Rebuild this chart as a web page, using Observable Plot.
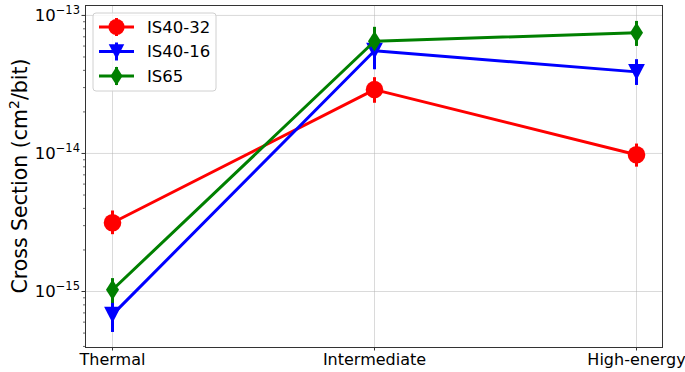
<!DOCTYPE html>
<html><head><meta charset="utf-8">
<script src="https://cdn.jsdelivr.net/npm/d3@7"></script>
<script src="https://cdn.jsdelivr.net/npm/@observablehq/plot@0.6"></script>
<style>
body{margin:0;background:#fff;font-family:"DejaVu Sans",sans-serif;}
#chart{position:relative;width:685px;height:372px;}
</style>
</head><body><div id="chart"></div>
<script>
const categories = ["Thermal", "Intermediate", "High-energy"];
const seriesNames = ["IS40-32", "IS40-16", "IS65"];
const seriesColors = ["#ff0000", "#0000ff", "#008000"];
const is4032 = [3.15e-15, 2.9e-14, 9.8e-15];
const is4032Low = [2.58e-15, 2.31e-14, 7.96e-15];
const is4032High = [3.83e-15, 3.54e-14, 1.17e-14];
const is4016 = [6.8e-16, 5.55e-14, 3.9e-14];
const is4016Low = [5.05e-16, 4.04e-14, 3.11e-14];
const is4016High = [8.6e-16, 7.1e-14, 4.78e-14];
const is65 = [1.03e-15, 6.5e-14, 7.5e-14];
const is65Low = [8.2e-16, 5.3e-14, 5.96e-14];
const is65High = [1.24e-15, 8.2e-14, 9.05e-14];
const yMajorTicks = [1e-15, 1e-14, 1e-13];
const yTickExponents = ["\u221215", "\u221214", "\u221213"];
const yDomain = [3.93e-16, 1.18e-13];
const yLabel = "Cross Section (cm";
const yLabelSup = "2";
const yLabelEnd = "/bit)";

const W = 685, H = 372;
const mL = 85, mR = 23, mT = 5, mB = 25;

const triDown = {draw(ctx, size){ const r = Math.sqrt(size/Math.PI); ctx.moveTo(0, r); ctx.lineTo(-r, -r*0.95); ctx.lineTo(r, -r*0.95); ctx.closePath(); }};
const thinDiamond = {draw(ctx, size){ const r = Math.sqrt(size/Math.PI); const w = r*0.64; ctx.moveTo(0, -r); ctx.lineTo(w, 0); ctx.lineTo(0, r); ctx.lineTo(-w, 0); ctx.closePath(); }};
const circleSym = {draw(ctx, size){ const r = Math.sqrt(size/Math.PI); ctx.moveTo(r, 0); ctx.arc(0, 0, r, 0, 2*Math.PI); }};
const seriesSymbols = [circleSym, triDown, thinDiamond];
const seriesR = [8.8, 8.4, 10.2];

const seriesVals = [is4032, is4016, is65];
const seriesLo = [is4032Low, is4016Low, is65Low];
const seriesHi = [is4032High, is4016High, is65High];
const tables = seriesNames.map((name, s) => categories.map((c, i) => ({
  series: name, cat: c, value: seriesVals[s][i], lo: seriesLo[s][i], hi: seriesHi[s][i]
})));

// minor ticks derived from the domain
const minorTicks = [];
for (let e = -16; e <= -13; e++) for (let k = 2; k <= 9; k++) {
  const v = k * Math.pow(10, e);
  if (v >= yDomain[0] && v <= yDomain[1]) minorTicks.push(v);
}

const marks = [
  Plot.gridY(yMajorTicks, {stroke: "#b0b0b0", strokeOpacity: 0.6, strokeWidth: 0.8}),
  Plot.gridX(categories, {stroke: "#b0b0b0", strokeOpacity: 0.6, strokeWidth: 0.8}),
  Plot.axisY(yMajorTicks, {tickFormat: () => "", tickSize: 3.5, stroke: "#000", strokeWidth: 0.8, label: null}),
  Plot.axisY(minorTicks, {tickFormat: () => "", tickSize: 2, stroke: "#000", strokeWidth: 0.6, label: null}),
  Plot.axisX(categories, {tickSize: 3.5, stroke: "#000", strokeWidth: 0.8, fontSize: 16, tickPadding: 3, label: null, fill: "#000"}),
];
tables.forEach((t, s) => {
  marks.push(Plot.ruleX(t, {x: "cat", y1: "lo", y2: "hi", stroke: seriesColors[s], strokeWidth: 3}));
});
tables.forEach((t, s) => {
  marks.push(Plot.line(t, {x: "cat", y: "value", stroke: seriesColors[s], strokeWidth: 3}));
  marks.push(Plot.dot(t, {x: "cat", y: "value", symbol: () => seriesSymbols[s], r: seriesR[s], fill: seriesColors[s], stroke: "none"}));
});
marks.push(Plot.frame({stroke: "#333", strokeWidth: 1}));

const plot = Plot.plot({
  width: W, height: H,
  marginLeft: mL, marginRight: mR, marginTop: mT, marginBottom: mB,
  style: {fontFamily: "DejaVu Sans", fontSize: "16px", color: "#000", background: "#fff", overflow: "visible"},
  x: {type: "point", domain: categories, padding: 0.1, axis: null},
  y: {type: "log", domain: yDomain, axis: null},
  symbol: {type: "identity"},
  marks
});
document.getElementById("chart").appendChild(plot);

const svg = d3.select(plot);
const yScale = plot.scale("y");
// y tick labels with superscript exponents
yMajorTicks.forEach((v, i) => {
  const y = yScale.apply(v);
  const t = svg.append("text").attr("x", mL - 5).attr("y", y + 5.8)
    .attr("text-anchor", "end").attr("font-size", 16.5).attr("fill", "#000")
    .attr("font-family", "DejaVu Sans");
  t.append("tspan").text("10");
  t.append("tspan").attr("font-size", 11.5).attr("dy", -7).text(yTickExponents[i]);
});
// y axis label
const cy = mT + (H - mT - mB) / 2;
const lab = svg.append("text").attr("transform", `translate(27,${cy}) rotate(-90)`)
  .attr("text-anchor", "middle").attr("font-size", 20.5).attr("fill", "#000")
  .attr("font-family", "DejaVu Sans");
lab.append("tspan").text(yLabel);
lab.append("tspan").attr("font-size", 14).attr("dy", -8).text(yLabelSup);
lab.append("tspan").attr("dy", 8).text(yLabelEnd);

// legend
const lg = svg.append("g").attr("transform", "translate(93,13)");
lg.append("rect").attr("width", 123).attr("height", 78).attr("rx", 3)
  .attr("fill", "#fff").attr("fill-opacity", 0.8).attr("stroke", "#d0d0d0").attr("stroke-width", 1);
seriesNames.forEach((name, s) => {
  const yy = 14 + s * 24.5;
  const g = lg.append("g").attr("transform", `translate(0,${yy})`);
  g.append("line").attr("x1", 6).attr("x2", 41).attr("y1", 0).attr("y2", 0)
    .attr("stroke", seriesColors[s]).attr("stroke-width", 3);
  g.append("line").attr("x1", 23.5).attr("x2", 23.5).attr("y1", -9).attr("y2", 9)
    .attr("stroke", seriesColors[s]).attr("stroke-width", 3);
  g.append("path").attr("transform", "translate(23.5,0)")
    .attr("d", d3.symbol(seriesSymbols[s], Math.PI * seriesR[s] * seriesR[s] * 0.85)())
    .attr("fill", seriesColors[s]);
  g.append("text").attr("x", 54).attr("y", 5.8).attr("font-size", 16.5).attr("fill", "#000")
    .attr("text-anchor", "start").attr("font-family", "DejaVu Sans").text(name);
});
</script>
</body></html>
